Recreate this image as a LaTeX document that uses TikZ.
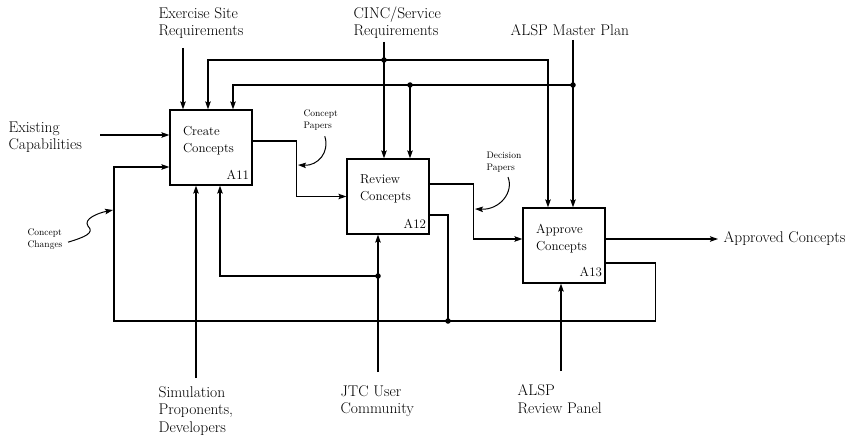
\documentclass[tikz,border=0pt]{standalone}
\usepackage{amsmath}
\usepackage{tikz}
\usetikzlibrary{arrows.meta, positioning, calc}

\begin{document}
\begin{tikzpicture}[x=1pt, y=-1pt, >={Stealth[length=8pt, width=5.5pt, inset=1.5pt]}, line width=1.2pt,
    func/.style={rectangle, draw, minimum width=82pt, minimum height=75pt, inner sep=0pt},
    title/.style={align=left, inner sep=0pt, font=\fontsize{13}{17}\selectfont},
    fnum/.style={inner sep=0pt, font=\fontsize{13}{15}\selectfont},
    lbl/.style={align=left, inner sep=0pt, anchor=north west, font=\fontsize{15.5}{17.5}\selectfont},
    note/.style={align=left, inner sep=0pt, anchor=north west, font=\fontsize{9.5}{12.5}\selectfont},
    flow/.style={draw, ->},
    squig/.style={draw, ->, line width=1pt},
    dot/.style={circle, fill, inner sep=0pt, minimum size=5.5pt}]

    \useasboundingbox (0,0) rectangle (860,436);

    \node [func] (a11) at (211,147.5) {};
    \node [func] (a12) at (388,196.5) {};
    \node [func] (a13) at (564,245.5) {};

    \node [title, below right=16pt and 13pt of a11.north west, anchor=north west] (t11) {Create\\Concepts};
    \node [title, below right=16pt and 13pt of a12.north west, anchor=north west] (t12) {Review\\Concepts};
    \node [title, below right=16pt and 13pt of a13.north west, anchor=north west] (t13) {Approve\\Concepts};
    \node [fnum, above left=6pt and 3pt of a11.south east, anchor=south east] (n11) {A11};
    \node [fnum, above left=6pt and 3pt of a12.south east, anchor=south east] (n12) {A12};
    \node [fnum, above left=6pt and 3pt of a13.south east, anchor=south east] (n13) {A13};

    \node [lbl] (exist) at (8,121) {Existing\\Capabilities};
    \node [lbl] (exer) at (158,7) {Exercise Site\\Requirements};
    \node [lbl] (cinc) at (353,6) {CINC/Service\\Requirements};
    \node [lbl] (plan) at (510,24) {ALSP Master Plan};
    \node [lbl] (sim) at (158,386) {Simulation\\Proponents,\\Developers};
    \node [lbl] (jtc) at (340,385) {JTC User\\Community};
    \node [lbl] (panel) at (517,384) {ALSP\\Review Panel};

    \node [note] (cpap) at (303,109) {Concept\\Papers};
    \node [note] (dpap) at (486,151) {Decision\\Papers};
    \node [note] (cchg) at (27,228) {Concept\\Changes};

    \coordinate (exist-in) at (100,135);
    \coordinate (exer-in) at (183,48);
    \coordinate (cinc-in) at (384,42);
    \coordinate (plan-in) at (573,40);
    \coordinate (sim-in) at (196,378);
    \coordinate (jtc-in) at (378,372);
    \coordinate (panel-in) at (561,371);
    \coordinate (out-end) at (718,239);

    \coordinate (cinc-split) at (384,60);
    \coordinate (plan-split) at (573,85);
    \coordinate (plan-tap) at (410,85);
    \coordinate (jtc-tap) at (378,276);
    \coordinate (fb-tap) at (448,321);

    \node [lbl, anchor=west, right=5pt of out-end] (approved) {Approved Concepts};

    \draw [flow] (exist-in) -- (exist-in -| a11.west);
    \draw [flow] (exer-in) -- (exer-in |- a11.north);
    \draw [flow] (cinc-in) -- (cinc-in |- a12.north);
    \draw [flow] (cinc-split) -| ([xshift=-3pt]a11.north);
    \draw [flow] (cinc-split) -| ([xshift=-16pt]a13.north);
    \draw [flow] (plan-in) -- (plan-in |- a13.north);
    \draw [flow] (plan-split) -| ([xshift=22pt]a11.north);
    \draw [flow] (plan-tap) -- (plan-tap |- a12.north);

    \draw [flow] ([yshift=6.5pt]a11.east) -- ++(44,0) |- (a12.west);
    \draw [flow] ([yshift=12.5pt]a12.east) -- ++(44,0) |- ([yshift=6.5pt]a13.west);
    \draw [flow] ([yshift=6.5pt]a13.east) -- (out-end);

    \draw ([yshift=-17.5pt]a13.east) -- ++(50,0) |- (fb-tap);
    \draw ([yshift=-18.5pt]a12.east) -| (fb-tap);
    \draw [flow] (fb-tap) -- ++(-334,0) |- ([yshift=-19.5pt]a11.west);

    \draw [flow] (sim-in) -- (sim-in |- a11.south);
    \draw [flow] (jtc-in) -- (jtc-in |- a12.south);
    \draw [flow] (jtc-tap) -| ([xshift=9pt]a11.south);
    \draw [flow] (panel-in) -- (panel-in |- a13.south);

    \draw [squig] ([shift={(4,5)}]cpap.south) .. controls (330,152) and (318,166) .. (298,165);
    \draw [squig] ([shift={(4,4)}]dpap.south) .. controls (514,192) and (500,210) .. (475,209);
    \draw [squig] ([shift={(5,3)}]cchg.east) .. controls (85,237) and (95,233) .. (88,226)
        .. controls (83,219) and (98,213) .. (113,210);

    \foreach \j in {cinc-split, plan-split, plan-tap, jtc-tap, fb-tap}
        \node [dot] at (\j) {};
\end{tikzpicture}
\end{document}
